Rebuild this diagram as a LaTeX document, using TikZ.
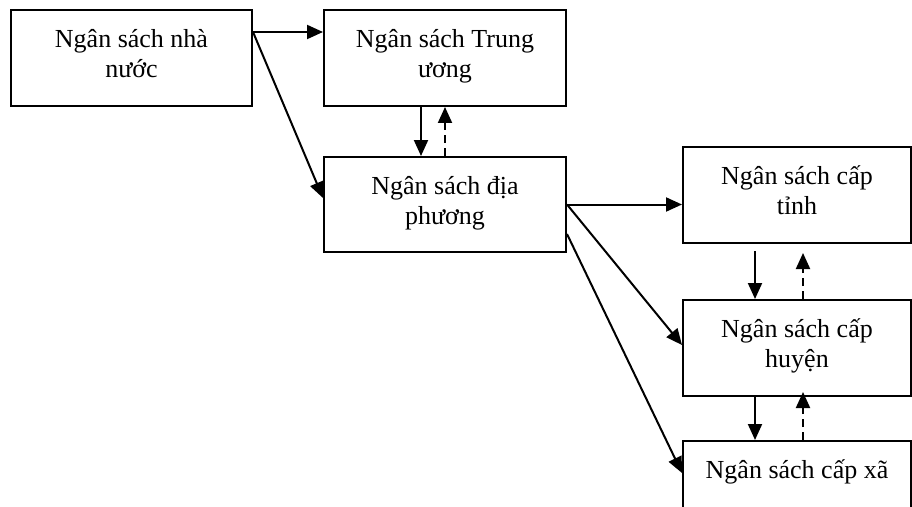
\documentclass[tikz,border=0pt]{standalone}
\usepackage{fontspec}
\setmainfont{Liberation Serif}
\usetikzlibrary{positioning,arrows.meta}
\tikzset{>={Triangle[length=12pt,width=10.5pt]}}
\tikzset{
  hop/.style={draw, line width=1.5pt, minimum width=180.75pt, minimum height=72pt, inner sep=0pt},
  chu/.style={inner sep=0pt, align=center, font=\fontsize{19.5pt}{22.5pt}\selectfont},
  ve/.style={->, line width=1.5pt},
  venguoc/.style={->, line width=1.5pt, dash pattern=on 6pt off 3.75pt}
}

\begin{document}
\begin{tikzpicture}[x=0.75pt,y=-0.75pt]
    \useasboundingbox (0,0) rectangle (912,506);
    % set up the boxes
    \node[hop] (NN) at (131.5,58) {};
    \node[hop, right=52.5pt of NN, minimum width=181.5pt] (TW) {};
    \node[hop, below=36.75pt of TW, minimum width=181.5pt, minimum height=71.25pt] (DP) {};
    \node[hop, minimum width=171pt] (T) at (797,195) {};
    \node[hop, below=41.25pt of T, minimum width=171pt] (H) {};
    \node[hop, below=32.25pt of H, minimum width=171pt] (X) {};
    % texts in the boxes
    \node[chu, below=7pt of NN.north] (NN-t) {\rule{0pt}{1.1em}Ngân sách nhà\\nước};
    \node[chu, below=7pt of TW.north] (TW-t) {\rule{0pt}{1.1em}Ngân sách Trung\\ương};
    \node[chu, below=7pt of DP.north] (DP-t) {\rule{0pt}{1.1em}Ngân sách địa\\phương};
    \node[chu, below=7pt of T.north] (T-t) {\rule{0pt}{1.1em}Ngân sách cấp\\tỉnh};
    \node[chu, below=7pt of H.north] (H-t) {\rule{0pt}{1.1em}Ngân sách cấp\\huyện};
    \node[chu, below=7pt of X.north] (X-t) {\rule{0pt}{1.1em}Ngân sách cấp xã};
    % draw arrows between them
    \draw[ve] ([yshift=-17.25pt]NN.north east) -- ([yshift=-17.25pt]TW.north west);
    \draw[ve] ([yshift=-17.25pt]NN.north east) -- ([yshift=-31.5pt]DP.north west);
    \draw[ve] ([xshift=-18pt]TW.south) -- ([xshift=-18pt]DP.north);
    \draw[venguoc] (DP.north) -- (TW.south);
    \draw[ve] (DP.east) -- (DP.east -| T.west);
    \draw[ve] (DP.east) -- ([yshift=2.25pt]H.west);
    \draw[ve] ([yshift=-58.5pt]DP.north east) -- ([yshift=-24.75pt]X.north west);
    \draw[ve] ([xshift=-31.5pt,yshift=-5.25pt]T.south) -- ([xshift=-31.5pt]H.north);
    \draw[venguoc] ([xshift=4.5pt]H.north) -- ([xshift=4.5pt,yshift=-6.75pt]T.south);
    \draw[ve] ([xshift=-31.5pt]H.south) -- ([xshift=-31.5pt]X.north);
    \draw[venguoc] ([xshift=4.5pt]X.north) -- ([xshift=4.5pt,yshift=3.75pt]H.south);
\end{tikzpicture}
\end{document}
